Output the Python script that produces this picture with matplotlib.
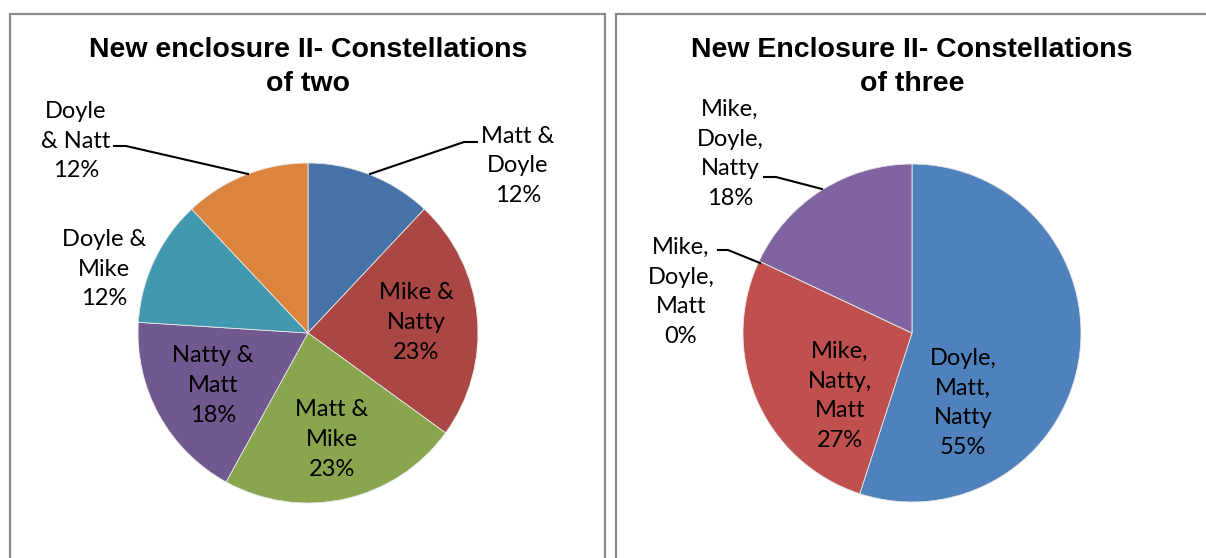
import matplotlib.pyplot as plt
import numpy as np
from matplotlib.patches import Rectangle

W, H = 1206, 558

# pairs
pair_labels = ["Matt &\nDoyle", "Mike &\nNatty", "Matt &\nMike", "Natty &\nMatt", "Doyle &\nMike", "Doyle\n& Natt"]
pair_values = [12, 23, 23, 18, 12, 12]
pair_colors = ["#4572A7", "#AA4643", "#89A54E", "#71588F", "#4198AF", "#DB843D"]

# triples
triple_labels = ["Doyle,\nMatt,\nNatty", "Mike,\nNatty,\nMatt", "Mike,\nDoyle,\nMatt", "Mike,\nDoyle,\nNatty"]
triple_values = [55, 27, 0, 18]
triple_colors = ["#4F81BD", "#C0504D", "#9BBB59", "#8064A2"]

LABEL_FONT = ["Lato", "DejaVu Sans"]
TITLE_FONT = ["Liberation Sans", "DejaVu Sans"]
LABEL_KW = dict(ha="center", va="center", fontsize=17, family=LABEL_FONT,
                linespacing=1.52, color="black")
TITLE_KW = dict(ha="center", va="center", fontsize=20.5, fontweight="bold",
                family=TITLE_FONT, linespacing=1.4)


def Y(py):
    # pixel rows run downwards, axes y runs upwards
    return H - py


fig = plt.figure(figsize=(W / 100, H / 100), dpi=100)
ax = fig.add_axes([0, 0, 1, 1])

# chart frames
for x0, x1 in [(10, 605), (616, 1220)]:
    ax.add_patch(Rectangle((x0, -10), x1 - x0, Y(14) + 10, fill=False,
                           edgecolor="#8a8a8a", linewidth=1.6, zorder=0))


def draw_pie(cx, cy, r, values, colors):
    wedges, _ = ax.pie(values, colors=colors, startangle=90, counterclock=False,
                       center=(cx, Y(cy)), radius=r, frame=True,
                       wedgeprops=dict(edgecolor="#e8e8e8", linewidth=0.6))
    return wedges


def inside_label(cx, cy, r, values, i, frac, text):
    # place text along the wedge's middle angle
    start = sum(values[:i])
    mid = (start + values[i] / 2) / sum(values) * 360
    a = np.deg2rad(90 - mid)
    ax.text(cx + frac * r * np.cos(a), Y(cy) + frac * r * np.sin(a), text, **LABEL_KW)


def outside_label(x, y, text, line=None):
    ax.text(x, Y(y), text, **LABEL_KW)
    if line:
        xs, ys = zip(*line)
        ax.plot(xs, [Y(v) for v in ys], color="black", linewidth=1.5)


def pct(v):
    return f"{v}%"


# left chart
cx, cy, r = 308, 333, 170
draw_pie(cx, cy, r, pair_values, pair_colors)
for i in (1, 2, 3):
    inside_label(cx, cy, r, pair_values, i, 0.64, pair_labels[i] + "\n" + pct(pair_values[i]))
outside_label(518, 166, pair_labels[0] + "\n" + pct(pair_values[0]),
              [(370, 174), (464, 142), (477, 142)])
outside_label(104, 269, pair_labels[4] + "\n" + pct(pair_values[4]))
outside_label(76, 141, pair_labels[5] + "\n" + pct(pair_values[5]),
              [(114, 146), (126, 146), (248, 174)])
ax.text(308, Y(67), "New enclosure II- Constellations\nof two", **TITLE_KW)

# right chart
cx, cy, r = 912, 333, 169
draw_pie(cx, cy, r, triple_values, triple_colors)
ax.text(963, Y(403), triple_labels[0] + "\n" + pct(triple_values[0]), **LABEL_KW)
ax.text(840, Y(396), triple_labels[1] + "\n" + pct(triple_values[1]), **LABEL_KW)
outside_label(681, 292, triple_labels[2] + "\n" + pct(triple_values[2]),
              [(718, 250), (728, 250), (760, 263)])
outside_label(730, 154, triple_labels[3] + "\n" + pct(triple_values[3]),
              [(764, 177), (776, 177), (822, 189)])
ax.text(912, Y(67), "New Enclosure II- Constellations\nof three", **TITLE_KW)

ax.set_xlim(0, W)
ax.set_ylim(0, H)
ax.set_aspect("equal")
ax.axis("off")

fig.savefig("out.png", dpi=100, facecolor="white")
